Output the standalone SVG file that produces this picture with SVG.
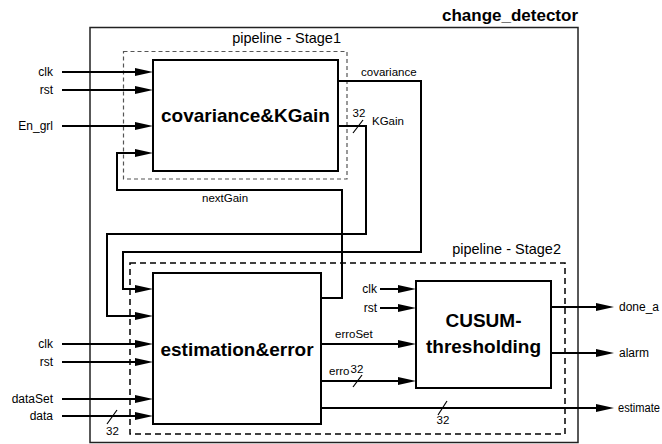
<svg xmlns="http://www.w3.org/2000/svg" width="662" height="444" viewBox="0 0 662 444">
<style>
text{font-family:"Liberation Sans",Arial,sans-serif;fill:#000}
.lbl{font-size:12px}
.wl{font-size:11.5px}
.big{font-size:19px;font-weight:bold}
.title{font-size:17px;font-weight:bold}
.stage{font-size:14.5px}
.box{fill:#fff;stroke:#000;stroke-width:2}
.w{fill:none;stroke:#000;stroke-width:2;stroke-linejoin:miter}
.a{marker-end:url(#ah)}
.sl{stroke:#000;stroke-width:1.2}
</style>
<defs>
<marker id="ah" markerUnits="userSpaceOnUse" markerWidth="18" markerHeight="8" refX="8" refY="4" orient="auto">
<path d="M0,0 L18,4 L0,8 z" fill="#000"/>
</marker>
</defs>
<rect width="662" height="444" fill="#fff"/>

<g id="change_detector">
<rect x="90" y="27.5" width="488" height="415" fill="none" stroke="#222" stroke-width="1.5"/>
<text class="title" x="578" y="21" text-anchor="end">change_detector</text>
</g>

<g id="stage1">
<rect x="123.5" y="51.5" width="223.5" height="127.5" fill="none" stroke="#555" stroke-width="1.2" stroke-dasharray="4 3"/>
<text class="stage" x="341" y="43" text-anchor="end">pipeline - Stage1</text>
</g>

<g id="stage2">
<rect x="130" y="263" width="435" height="171" fill="none" stroke="#000" stroke-width="1.5" stroke-dasharray="6 4"/>
<text class="stage" x="561" y="254" text-anchor="end">pipeline - Stage2</text>
</g>

<g id="cov">
<rect class="box" x="153" y="60" width="185" height="111"/>
<text class="big" x="245.5" y="122" text-anchor="middle">covariance&amp;KGain</text>
</g>

<g id="est">
<rect class="box" x="153" y="273" width="168" height="151"/>
<text class="big" x="237" y="356" text-anchor="middle">estimation&amp;error</text>
</g>

<g id="cusum">
<rect class="box" x="416" y="281" width="135" height="107"/>
<text class="big" x="483.5" y="327" text-anchor="middle">CUSUM-</text>
<text class="big" x="483.5" y="353" text-anchor="middle">thresholding</text>
</g>

<g id="connectors">
<!-- cov inputs -->
<path class="w a" d="M62,72 H143"/>
<path class="w a" d="M62,90 H143"/>
<path class="w a" d="M62,126 H143"/>
<text class="lbl" x="53" y="76" text-anchor="end">clk</text>
<text class="lbl" x="53" y="94" text-anchor="end">rst</text>
<text class="lbl" x="53" y="130" text-anchor="end">En_grl</text>

<!-- covariance -->
<path class="w a" d="M338,81 H421 V252 H123 V289 H143"/>
<text class="wl" x="361" y="76">covariance</text>

<!-- KGain -->
<path class="w a" d="M338,126 H366 V234 H107 V316 H143"/>
<line class="sl" x1="353" y1="133" x2="363" y2="120"/>
<text class="wl" x="359" y="117" text-anchor="middle">32</text>
<text class="wl" x="372" y="125">KGain</text>

<!-- nextGain -->
<path class="w a" d="M321,298 H342 V190 H117 V153 H143"/>
<text class="wl" x="202" y="202">nextGain</text>

<!-- est inputs -->
<path class="w a" d="M62,344 H143"/>
<path class="w a" d="M62,362 H143"/>
<path class="w a" d="M62,399 H143"/>
<path class="w a" d="M62,416 H143"/>
<text class="lbl" x="53" y="348" text-anchor="end">clk</text>
<text class="lbl" x="53" y="366" text-anchor="end">rst</text>
<text class="lbl" x="53" y="403" text-anchor="end">dataSet</text>
<text class="lbl" x="53" y="420" text-anchor="end">data</text>
<line class="sl" x1="107" y1="424" x2="117" y2="410"/>
<text class="wl" x="112.5" y="435" text-anchor="middle">32</text>

<!-- cusum inputs -->
<path class="w a" d="M380,289 H406"/>
<path class="w a" d="M380,308 H406"/>
<text class="lbl" x="377" y="293" text-anchor="end">clk</text>
<text class="lbl" x="377" y="312" text-anchor="end">rst</text>

<!-- erroSet / erro -->
<path class="w a" d="M321,344 H406"/>
<text class="wl" x="335" y="338">erroSet</text>
<path class="w a" d="M321,381 H406"/>
<text class="wl" x="329" y="375">erro</text>
<text class="wl" x="357" y="373" text-anchor="middle">32</text>
<line class="sl" x1="353" y1="387" x2="362" y2="375"/>

<!-- outputs -->
<path class="w a" d="M551,307 H604"/>
<text class="lbl" x="619" y="311">done_a</text>
<path class="w a" d="M551,353 H604"/>
<text class="lbl" x="619" y="357">alarm</text>
<path class="w a" d="M321,408 H604"/>
<line class="sl" x1="438" y1="415" x2="447" y2="401"/>
<text class="wl" x="443" y="424" text-anchor="middle">32</text>
<text class="lbl" x="618" y="412" textLength="42" lengthAdjust="spacingAndGlyphs">estimate</text>
</g>
</svg>
